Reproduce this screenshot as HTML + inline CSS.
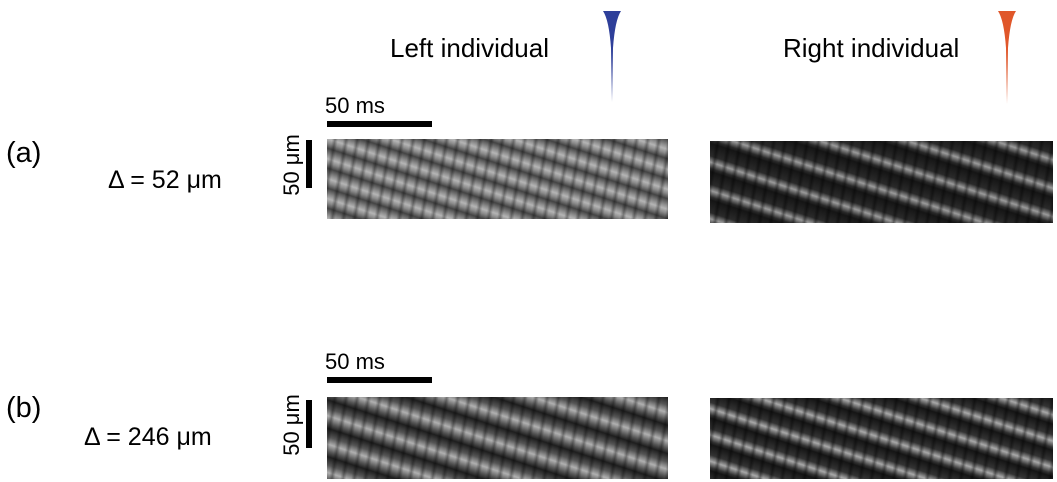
<!DOCTYPE html>
<html><head><meta charset="utf-8">
<style>
body{margin:0;width:1057px;height:482px;background:#fff;position:relative;overflow:hidden;font-family:"Liberation Sans","DejaVu Sans",sans-serif;color:#000}
.t{position:absolute;white-space:nowrap;line-height:1}
.bar{position:absolute;background:#000}
.img{position:absolute;overflow:hidden}
.img .s{position:absolute;inset:0}
.img .d{position:absolute;inset:0;mix-blend-mode:multiply}
</style></head><body>
<div class="t" style="left:390px;top:35px;font-size:26px">Left individual</div>
<div class="t" style="left:783px;top:35px;font-size:26px">Right individual</div>
<svg style="position:absolute;left:600px;top:8px" width="24" height="96"><path d="M3,3 L21,3 Q15,12 13,40 L12,94 L11,40 Q9,12 3,3 Z" fill="#2e3f9a"/></svg>
<svg style="position:absolute;left:995px;top:8px" width="24" height="98"><path d="M3,3 L21,3 Q15,12 13,40 L12,96 L11,40 Q9,12 3,3 Z" fill="#e0572a"/></svg>

<div class="t" style="left:6px;top:139px;font-size:29px">(a)</div>
<div class="t" style="left:108px;top:168px;font-size:25px">Δ = 52 μm</div>
<div class="t" style="left:325px;top:95px;font-size:22px">50 ms</div>
<div class="bar" style="left:327px;top:121px;width:105px;height:6px"></div>
<div class="bar" style="left:306px;top:140px;width:6px;height:48px"></div>
<div class="t" style="left:261px;top:154px;font-size:22px;transform:rotate(-90deg);transform-origin:center">50 μm</div>

<div class="t" style="left:6px;top:394px;font-size:29px">(b)</div>
<div class="t" style="left:84px;top:425px;font-size:25px">Δ = 246 μm</div>
<div class="t" style="left:325px;top:351px;font-size:22px">50 ms</div>
<div class="bar" style="left:327px;top:377px;width:105px;height:6px"></div>
<div class="bar" style="left:306px;top:400px;width:6px;height:48px"></div>
<div class="t" style="left:261px;top:414px;font-size:22px;transform:rotate(-90deg);transform-origin:center">50 μm</div>

<div class="img" style="left:327px;top:139px;width:341px;height:80px;background:#6a6a6a">
 <div class="s" style="background:repeating-linear-gradient(198deg,#444 0px,#8a8a8a 6px,#b5b5b5 10px,#8a8a8a 14px,#444 19px)"></div>
 <div class="d" style="background:repeating-linear-gradient(100deg,#fff 0px,#fff 5px,#aaa 8px,#fff 11px)"></div>
</div>
<div class="img" style="left:710px;top:141px;width:343px;height:82px;background:#333">
 <div class="s" style="background:repeating-linear-gradient(198deg,#151515 0px,#2a2a2a 12px,#9a9a9a 18px,#2a2a2a 24px,#151515 27px)"></div>
 <div class="d" style="background:repeating-linear-gradient(100deg,#fff 0px,#fff 5px,#999 8px,#fff 11px)"></div>
</div>
<div class="img" style="left:327px;top:397px;width:341px;height:82px;background:#555">
 <div class="s" style="background:repeating-linear-gradient(198deg,#1e1e1e 0px,#555 8px,#b0b0b0 15px,#555 22px,#1e1e1e 27px)"></div>
 <div class="d" style="background:repeating-linear-gradient(100deg,#fff 0px,#fff 5px,#aaa 8px,#fff 11px)"></div>
</div>
<div class="img" style="left:710px;top:398px;width:343px;height:81px;background:#333">
 <div class="s" style="background:repeating-linear-gradient(198deg,#151515 0px,#333 10px,#a8a8a8 16px,#333 22px,#151515 25px)"></div>
 <div class="d" style="background:repeating-linear-gradient(100deg,#fff 0px,#fff 5px,#999 8px,#fff 11px)"></div>
</div>
</body></html>
